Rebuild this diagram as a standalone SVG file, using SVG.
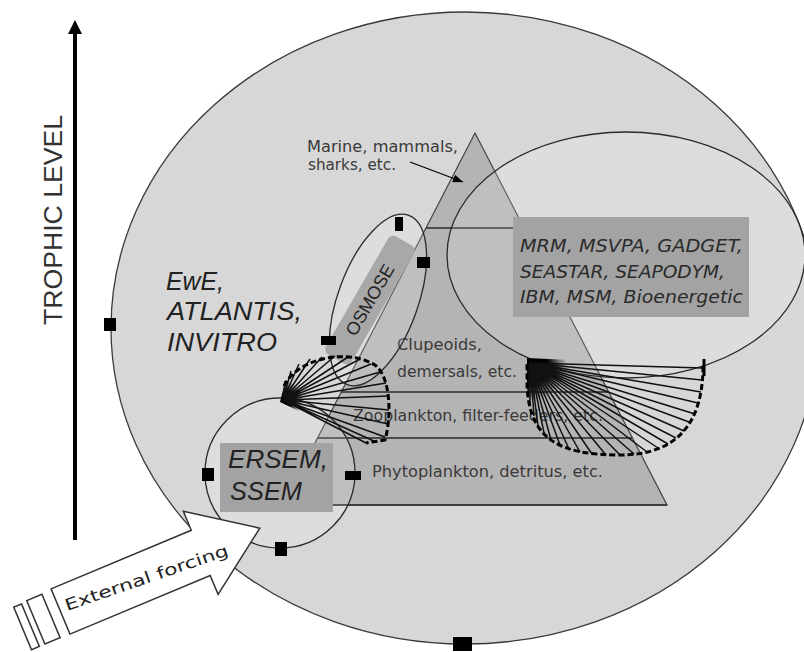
<svg xmlns="http://www.w3.org/2000/svg" width="804" height="652" viewBox="0 0 804 652">
<defs>
<style>
.outline{fill:#d7d7d7;stroke:#3a3a3a;stroke-width:1.3}
.model{fill:#ffffff;fill-opacity:0.15;stroke:#2a2a2a;stroke-width:1.3}
.box{fill:#a3a3a3}
.sq{fill:#000}
.lbl{font-family:"DejaVu Sans",Verdana,sans-serif;font-size:15px;fill:#3a3a3a}
.mdl{font-family:"Liberation Sans",Arial,sans-serif;font-style:italic;font-size:25px;fill:#222}
.mrm{font-family:"DejaVu Sans",Verdana,sans-serif;font-style:oblique;font-size:17px;fill:#2a2a2a}
.band{stroke:#2a2a2a;stroke-width:1.6}
.hatch{fill:none;stroke:#111;stroke-width:1.5}
.dash{fill:none;stroke:#000;stroke-width:3;stroke-dasharray:6 3}
</style>
<radialGradient id="blob">
<stop offset="0" stop-color="#000"/>
<stop offset="0.45" stop-color="#000"/>
<stop offset="1" stop-color="#000" stop-opacity="0"/>
</radialGradient>
<clipPath id="clipR"><path d="M527,358 L703,366 C703,420 680,455 620,455 C560,455 527,440 527,380 Z"/></clipPath>
<clipPath id="clipL"><path d="M280,402 L284,386 C296,360 345,347 375,365 C392,378 391,420 385,440 L366,443 Z"/></clipPath>
<marker id="ah" viewBox="0 0 10 8" refX="10" refY="4" markerWidth="10" markerHeight="8" markerUnits="userSpaceOnUse" orient="auto"><path d="M0,0 L10,4 L0,8 Z" fill="#000"/></marker>
</defs>

<g id="ecosystem">
<ellipse class="outline" cx="465" cy="328" rx="354" ry="316"/>
<rect class="sq" x="104" y="318" width="12" height="13"/>
<rect class="sq" x="453" y="637" width="19" height="14"/>
</g>

<g id="pyramid">
<polygon points="475,133 667,505 283,505" fill="#b4b4b4" stroke="#444" stroke-width="1.2"/>
<line class="band" x1="426" y1="228" x2="524" y2="228"/>
<line class="band" x1="341" y1="392" x2="609" y2="392"/>
<line class="band" x1="318" y1="438" x2="632" y2="438"/>
<line class="band" x1="283" y1="505" x2="667" y2="505"/>
<text class="lbl" x="307" y="152" textLength="151" lengthAdjust="spacingAndGlyphs">Marine, mammals,</text>
<text class="lbl" x="308" y="170" textLength="88" lengthAdjust="spacingAndGlyphs">sharks, etc.</text>
<text class="lbl" x="397" y="350" textLength="85" lengthAdjust="spacingAndGlyphs">Clupeoids,</text>
<text class="lbl" x="397" y="377" textLength="120" lengthAdjust="spacingAndGlyphs">demersals, etc.</text>
<text class="lbl" x="353" y="421" textLength="250" lengthAdjust="spacingAndGlyphs">Zooplankton, filter-feeders, etc.</text>
<text class="lbl" x="372" y="477" textLength="231" lengthAdjust="spacingAndGlyphs">Phytoplankton, detritus, etc.</text>
</g>

<g id="mrm">
<ellipse class="model" cx="626" cy="255" rx="179" ry="123"/>
<rect class="box" x="513" y="217" width="236" height="100"/>
<text class="mrm" x="520" y="252" textLength="223" lengthAdjust="spacingAndGlyphs">MRM, MSVPA, GADGET,</text>
<text class="mrm" x="520" y="278" textLength="205" lengthAdjust="spacingAndGlyphs">SEASTAR, SEAPODYM,</text>
<text class="mrm" x="520" y="303" textLength="223" lengthAdjust="spacingAndGlyphs">IBM, MSM, Bioenergetic</text>
</g>

<g id="osmose">
<ellipse class="model" cx="0" cy="0" rx="90" ry="40" transform="translate(378,300) rotate(-70)"/>
<g transform="translate(370,300) rotate(-60)">
<rect x="-68" y="-15" width="136" height="30" rx="6" fill="#a8a8a8"/>
<text x="0" y="6" text-anchor="middle" font-family="Liberation Sans, Arial, sans-serif" font-size="18" fill="#222">OSMOSE</text>
</g>
<rect class="sq" x="395" y="217" width="8" height="14"/>
<rect class="sq" x="417" y="257" width="13" height="11"/>
<rect class="sq" x="321" y="336" width="15" height="9"/>
</g>

<g id="ersem">
<circle class="model" cx="280" cy="473" r="75"/>
<rect class="box" x="220" y="443" width="113" height="69"/>
<text class="mdl" x="228" y="468" textLength="100" lengthAdjust="spacingAndGlyphs">ERSEM,</text>
<text class="mdl" x="230" y="500" textLength="72" lengthAdjust="spacingAndGlyphs">SSEM</text>
<rect class="sq" x="202" y="468" width="12" height="13"/>
<rect class="sq" x="345" y="471" width="16" height="9"/>
<rect class="sq" x="275" y="542" width="12" height="14"/>
</g>

<g id="ewe">
<text class="mdl" x="166" y="290" textLength="58" lengthAdjust="spacingAndGlyphs">EwE,</text>
<text class="mdl" x="167" y="320" textLength="135" lengthAdjust="spacingAndGlyphs">ATLANTIS,</text>
<text class="mdl" x="167" y="351" textLength="110" lengthAdjust="spacingAndGlyphs">INVITRO</text>
</g>

<g id="connectors">
<line x1="410" y1="162" x2="463" y2="182" stroke="#000" stroke-width="1.3" marker-end="url(#ah)"/>
<g id="fan-right">
<circle cx="533" cy="366" r="34" fill="url(#blob)" clip-path="url(#clipR)"/>
<path class="hatch" d="M530,363L703,368M530,363L702,380M530,363L701,392M530,363L698,403M530,363L695,414M530,363L689,422M530,363L684,431M530,363L676,438M530,363L668,444M530,363L658,448M530,363L647,452M530,363L634,454M530,363L620,455M530,363L606,455M530,363L592,454M530,363L580,452M530,363L569,449M530,363L560,445M530,363L551,440M530,363L544,433M530,363L538,426M530,363L534,416M530,363L530,406M530,363L528,393M530,363L527,380"/>
<path class="dash" d="M703,366 C703,420 680,455 620,455 C560,455 527,440 527,380 L527,362"/>
<line x1="704" y1="359" x2="704" y2="376" stroke="#000" stroke-width="3"/>
</g>
<g id="fan-left">
<circle cx="283" cy="400" r="20" fill="url(#blob)" clip-path="url(#clipL)"/>
<path class="hatch" d="M283,400L285,381M283,400L291,371M283,400L299,364M283,400L310,359M283,400L322,357M283,400L335,356M283,400L348,357M283,400L360,359M283,400L371,364M283,400L380,372M283,400L386,383M283,400L389,396M283,400L389,410M283,400L388,424M283,400L385,437M283,400L376,442M283,400L366,443"/>
<path class="dash" d="M284,386 C296,360 345,347 375,365 C392,378 391,420 385,440 L366,443"/>
</g>
</g>

<g id="forcing">
<g transform="translate(60.5,611.5) rotate(-22.7)" fill="#fff" stroke="#333" stroke-width="1.5">
<polygon points="0,-24.5 152,-24.5 152,-45 216,0 152,45 152,24.5 0,24.5"/>
<rect x="-27" y="-23" width="16.5" height="47"/>
<rect x="-41.5" y="-22" width="8.5" height="46"/>
</g>
<text transform="translate(67,611) rotate(-19)" font-family="DejaVu Sans, Verdana, sans-serif" font-size="16" fill="#222" textLength="172" lengthAdjust="spacingAndGlyphs">External forcing</text>
</g>

<g id="axis">
<line x1="75" y1="540" x2="75" y2="32" stroke="#000" stroke-width="4"/>
<polygon points="75,20 68,34 82,34" fill="#000"/>
<text transform="translate(62,220) rotate(-90)" text-anchor="middle" font-family="Liberation Sans, Arial, sans-serif" font-size="25" fill="#333" textLength="210" lengthAdjust="spacingAndGlyphs">TROPHIC LEVEL</text>
</g>
</svg>
